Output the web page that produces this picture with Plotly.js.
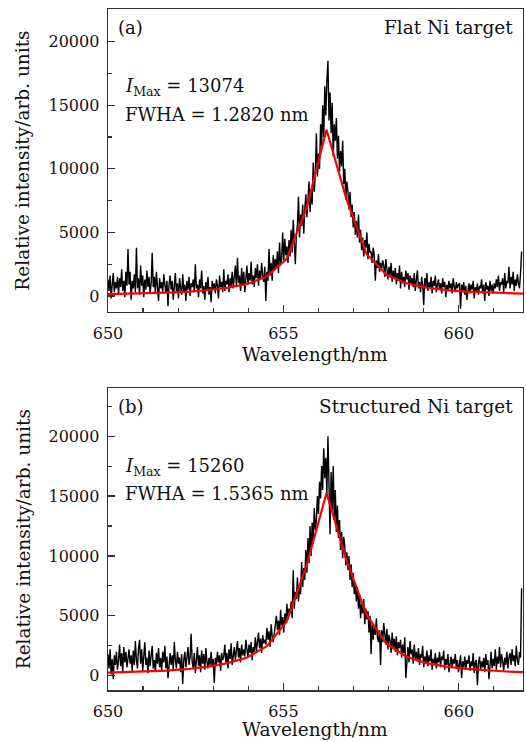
<!DOCTYPE html>
<html>
<head>
<meta charset="utf-8">
<script src="https://cdn.plot.ly/plotly-3.0.1.min.js"></script>
<style>
html,body{margin:0;padding:0;background:#fff;}
#chart{width:526px;height:742px;}
</style>
</head>
<body>
<div id="chart"></div>
<script>
// ---------------- DATA ----------------
// Spectrometer sampling grid (nm)
const wlStart = 650.0;
const wlStep = 0.03;

// (a) Flat Ni target - measured spectrum (arb. units), one value per grid step (rows of 0.3 nm)
const flatSpectrum = [
  1300, 400, 1600, -200, 900, 1800, 300, 1100, 600, 1500,
  200, 1400, 700, 2100, 400, 1200, -100, 1900, 800, 3700,
  900, 1900, -300, 1200, 600, 1700, 300, 3800, 600, 1400,
  100, 2400, 800, 1600, -100, 1300, 500, 2000, 700, 1500,
  200, 1000, 3400, 700, 1500, 200, 1900, 800, -400, 1400,
  600, 1100, 300, 1700, 900, 200, 1200, -800, 900, 1600,
  500, 1200, -300, 700, 1800, 300, 1000, -200, 1400, 600,
  100, 1700, 400, 900, -400, 1200, 500, 1500, 0, 1000,
  700, 1300, 300, 2500, 600, 900, -100, 1300, 600, 2000,
  200, 800, -300, 1100, 400, 1500, 100, 700, -500, 1200,
  500, 1000, 200, 1300, 800, -200, 1600, 700, 1100, 300,
  2100, 400, 1200, 900, 1700, 300, 1400, 800, 1900, 600,
  1500, 2400, 700, 3000, 1000, 1600, 400, 2200, 800, 1900,
  300, 1500, 2400, 900, 1800, 1200, 2700, 900, 1600, 700,
  2200, 1400, 2500, 800, 2000, 1300, 2600, 1600, 1100, 2300,
  -400, 1900, 1200, 3700, 1600, 2600, 1200, 3200, 2000, 2900,
  2200, 3500, 1800, 4200, 2400, 3000, 5000, 2700, 4500, 3200,
  3900, 2600, 4400, 3100, 5200, 3400, 6000, 4200, 2500, 4800,
  5600, 7800, 4600, 6400, 5500, 7200, 4900, 6800, 8000, 6200,
  7400, 9000, 6600, 8400, 7200, 10500, 8200, 9600, 12800, 9400,
  11200, 10000, 13500, 11800, 15000, 12500, 16500, 14200, 17000, 18500,
  13800, 16000, 12800, 15200, 11000, 13500, 12200, 14000, 10800, 12600,
  9800, 11400, 10200, 12200, 8800, 10000, 7600, 9000, 8200, 6800,
  8200, 6200, 7200, 5400, 6600, 4800, 5900, 4600, 6400, 4200,
  5200, 3600, 4600, 3100, 4400, 3800, 5000, 2900, 4100, 3400,
  3500, 2600, 3800, 3200, 1200, 2800, 2200, 3300, 1900, 2600,
  2100, 2800, 2400, 1500, 2900, 1800, 1300, 2300, 1600, 2600,
  1100, 2000, 1400, 2200, 900, 1800, 1200, 2400, 600, 1900,
  1000, 1500, 700, 2000, 1300, 1800, 500, 1600, 1000, 1400,
  700, 1800, 400, 1300, 2000, 600, 1100, 300, 1500, 900,
  -700, 1400, 700, 1800, 400, 1100, 600, 1500, 200, 1200,
  800, 1600, 300, 900, 1300, 500, 1000, 200, 1400, 700,
  1100, -100, 900, 400, 1200, 600, 1000, 200, 1400, 700,
  300, 1100, 600, 900, 1000, -1000, 900, 300, 1100, 100,
  800, -300, 700, 1000, 200, 900, 500, 1200, -200, 700,
  300, 1000, 100, 800, 600, 1300, 200, 900, -400, 1100,
  500, 800, 0, 1200, 400, 900, 200, 1000, 600, 1300,
  700, 1600, 400, 1100, 900, 1400, 300, 1800, 600, 1200,
  1000, 2300, 600, 1500, 900, 1900, 400, 1300, 800, 1700,
  1000, 600, 1800, 3500
];

// (b) Structured Ni target - measured spectrum
const structSpectrum = [
  1800, 600, 2200, 100, 1400, -300, 1700, 900, 2000, 500,
  1300, 2600, 800, 1900, 300, 2400, 1100, 2000, 700, 1600,
  2200, 1000, 1700, 400, 2100, 900, 2900, 1300, 600, 2300,
  3000, 1000, 2200, 400, 1800, 2800, 900, 1500, 200, 2100,
  800, 1700, 2500, 600, 1300, 300, 1900, 1000, 2300, 700,
  1500, 400, 2000, 1100, 2500, 600, 1600, -200, 1200, 1900,
  900, 1700, 500, 2800, 1300, 600, 2000, 1000, 1500, 300,
  1800, -700, 1300, 2000, 700, 1500, 2400, 900, 1600, 3500,
  1100, 600, 1900, 200, 1400, 2400, 800, 1700, 300, 2100,
  1000, 1800, 500, 2300, 1200, 600, 1500, 900, 2000, 700,
  1400, -600, 1500, 900, 2000, 1100, 1700, 400, 1900, 1300,
  1600, 2600, 1100, 1900, 600, 2200, 1400, 2700, 900, 1800,
  2400, 1300, 2000, 2900, 1500, 2300, 1100, 2600, 1700, 2200,
  1600, 3000, 2200, 1500, 2600, 1900, 2800, 1300, 2400, 2000,
  3200, 2000, 2800, 3600, 2300, 3100, 1900, 3400, 2700, 3000,
  2600, 4000, 3000, 3700, 2400, 4300, 3300, 2800, 3500, 4200,
  5000, 3800, 4600, 3400, 5500, 4200, 4900, 3600, 5200, 4400,
  6000, 4700, 5600, 5200, 6200, 4800, 8800, 5600, 7000, 6400,
  8200, 6200, 7600, 6800, 9500, 7400, 9000, 8000, 10500, 8600,
  11500, 9400, 12500, 10000, 12800, 11000, 14000, 12200, 13000, 15000,
  13500, 16200, 14800, 17500, 15500, 19000, 16500, 18200, 15200, 20000,
  16500, 11800, 17000, 13800, 17500, 13000, 15500, 12000, 14200, 11500,
  13000, 10500, 12000, 9800, 11600, 10800, 9200, 10300, 8800, 10000,
  8000, 9300, 7400, 8600, 6800, 7800, 6200, 7400, 5600, 6800,
  4800, 6000, 5200, 6400, 4300, 5600, 4700, 5400, 3600, 5000,
  1800, 4400, 3000, 4200, 3400, 4800, 3200, 2800, 3800, 900,
  3800, 2800, 4400, 3200, 2600, 3900, 2200, 3400, 2900, 1900,
  3600, 2400, 3100, 2000, 3300, 1700, 2800, 2300, 3000, 1500,
  2600, 1900, 3200, -200, 1600, 2400, 1100, 2900, 1800, 2200,
  1000, 2600, 1400, 2000, 1200, 2300, 900, 1800, 1500, 2500,
  700, 1600, 1100, 2100, 800, 1700, 1200, 2200, 500, 1400,
  1000, 1900, 600, 1500, 1100, 2000, 700, 1600, 1300, 2100,
  500, 1400, 900, 1800, 300, 1200, 1600, 700, 1400, 1000,
  1800, 600, 1300, 300, 1100, 1700, -200, 1200, 700, 1600,
  500, 1300, 1000, 1700, 400, 1200, 800, 1900, 200, 1100,
  1300, -800, 1000, 1600, 500, 1200, 700, 1500, 300, 1800,
  900, 1300, -300, 1100, 2000, 600, 1400, 800, 2200, 500,
  1600, 1000, 2400, 700, 1800, 1200, 400, 1500, 900, 2000,
  600, 1500, 1900, 900, 2200, 1200, 1700, 800, 2500, 1300,
  900, 2000, 1500, 7300
];

// Lorentzian fit curves (nodes as plotted)
const fitWavelength = [
  649.96, 650.53, 651.10, 651.67, 652.24, 652.81, 653.38, 653.95, 654.52, 655.09, 655.66,
  656.23,
  656.80, 657.37, 657.94, 658.51, 659.08, 659.65, 660.22, 660.79, 661.36, 661.93
];
const flatFit = [
  140, 170, 210, 260, 330, 450, 640, 930, 1520, 2900, 6900,
  13074,
  7600, 3300, 1650, 1000, 650, 460, 340, 270, 220, 180
];
const structFit = [
  250, 290, 340, 420, 540, 740, 1030, 1500, 2450, 4500, 9200,
  15260,
  9600, 5100, 2650, 1580, 1050, 760, 570, 440, 350, 290
];

const xTickVals = [650, 655, 660];
const yTickVals = [0, 5000, 10000, 15000, 20000];
const panelLabels = ['(a)', '(b)'];
const targetLabels = ['Flat Ni target', 'Structured Ni target'];
const iMaxValues = ['13074', '15260'];
const fwhaValues = ['1.2820', '1.5365'];
const xTitle = 'Wavelength/nm';
const yTitle = 'Relative intensity/arb. units';

// ---------------- BUILD ----------------
const W = 526, H = 742;
const fx = p => p / W;
const fy = p => 1 - p / H;
const wl = flatSpectrum.map((_, i) => +(wlStart + i * wlStep).toFixed(2));
const wlB = structSpectrum.map((_, i) => +(wlStart + i * wlStep).toFixed(2));

const FONT = 'DejaVu Serif';
const AX = '#333333';

const traces = [
  {x: wl, y: flatSpectrum, type: 'scatter', mode: 'lines', xaxis: 'x', yaxis: 'y',
   line: {color: '#000000', width: 1.4}, hoverinfo: 'skip'},
  {x: fitWavelength, y: flatFit, type: 'scatter', mode: 'lines', xaxis: 'x', yaxis: 'y',
   line: {color: '#ff0000', width: 2.2}, hoverinfo: 'skip'},
  {x: wlB, y: structSpectrum, type: 'scatter', mode: 'lines', xaxis: 'x2', yaxis: 'y2',
   line: {color: '#000000', width: 1.4}, hoverinfo: 'skip'},
  {x: fitWavelength, y: structFit, type: 'scatter', mode: 'lines', xaxis: 'x2', yaxis: 'y2',
   line: {color: '#ff0000', width: 2.2}, hoverinfo: 'skip'}
];

function xAxis(anchor) {
  return {
    domain: [fx(108), fx(523)], range: [650, 661.83], anchor: anchor,
    tickmode: 'array', tickvals: xTickVals, ticktext: xTickVals.map(String),
    ticks: 'inside', ticklen: 7, tickwidth: 1.2, tickcolor: AX,
    minor: {dtick: 1, tick0: 650, ticks: 'inside', ticklen: 4, tickwidth: 1.2, tickcolor: AX},
    showline: true, mirror: true, linecolor: AX, linewidth: 1.4,
    showgrid: false, zeroline: false, automargin: false,
    ticklabelstandoff: 6,
    tickfont: {family: FONT, size: 16, color: '#111'}
  };
}
function yAxis(anchor, top, bottom, range) {
  return {
    domain: [fy(bottom), fy(top)], range: range, anchor: anchor,
    tickmode: 'array', tickvals: yTickVals, ticktext: yTickVals.map(String),
    ticks: 'inside', ticklen: 7, tickwidth: 1.2, tickcolor: AX,
    minor: {dtick: 2500, tick0: 0, ticks: 'inside', ticklen: 4, tickwidth: 1.2, tickcolor: AX},
    showline: true, mirror: true, linecolor: AX, linewidth: 1.4,
    showgrid: false, zeroline: false, automargin: false,
    ticklabelstandoff: 4,
    tickfont: {family: FONT, size: 16, color: '#111'}
  };
}

const panels = [
  {top: 9.3, bottom: 312, labelY: 28, imaxY: 87, fwhaY: 115, xtY: 354},
  {top: 388.3, bottom: 690.3, labelY: 406, imaxY: 466.5, fwhaY: 494, xtY: 729}
];

const ann = [];
panels.forEach((p, k) => {
  const base = {xref: 'paper', yref: 'paper', showarrow: false, font: {family: FONT, size: 18, color: '#111'}};
  ann.push(Object.assign({}, base, {text: panelLabels[k], x: fx(116), y: fy(p.labelY), xanchor: 'left', yanchor: 'middle'}));
  ann.push(Object.assign({}, base, {text: targetLabels[k], x: fx(515), y: fy(p.labelY), xanchor: 'right', yanchor: 'middle', font: {family: FONT, size: 18.5, color: '#111'}}));
  ann.push(Object.assign({}, base, {text: '<i>I</i><sub>Max</sub> = ' + iMaxValues[k], x: fx(123), y: fy(p.imaxY), xanchor: 'left', yanchor: 'middle'}));
  ann.push(Object.assign({}, base, {text: 'FWHA = ' + fwhaValues[k] + ' nm', x: fx(123), y: fy(p.fwhaY), xanchor: 'left', yanchor: 'middle'}));
  ann.push(Object.assign({}, base, {text: xTitle, x: fx(315), y: fy(p.xtY), xanchor: 'center', yanchor: 'middle', font: {family: FONT, size: 18.5, color: '#111'}}));
  ann.push(Object.assign({}, base, {text: yTitle, x: fx(23), y: fy((p.top + p.bottom) / 2), xanchor: 'center', yanchor: 'middle', textangle: -90, font: {family: FONT, size: 18.5, color: '#111'}}));
});

const layout = {
  width: W, height: H,
  margin: {l: 0, r: 0, t: 0, b: 0, pad: 0},
  paper_bgcolor: '#ffffff', plot_bgcolor: '#ffffff',
  showlegend: false,
  xaxis: xAxis('y'),
  yaxis: yAxis('x', panels[0].top, panels[0].bottom, [-1260, 22550]),
  xaxis2: xAxis('y2'),
  yaxis2: yAxis('x2', panels[1].top, panels[1].bottom, [-1220, 24000]),
  annotations: ann
};

Plotly.newPlot('chart', traces, layout, {displayModeBar: false, staticPlot: true});
</script>
</body>
</html>
